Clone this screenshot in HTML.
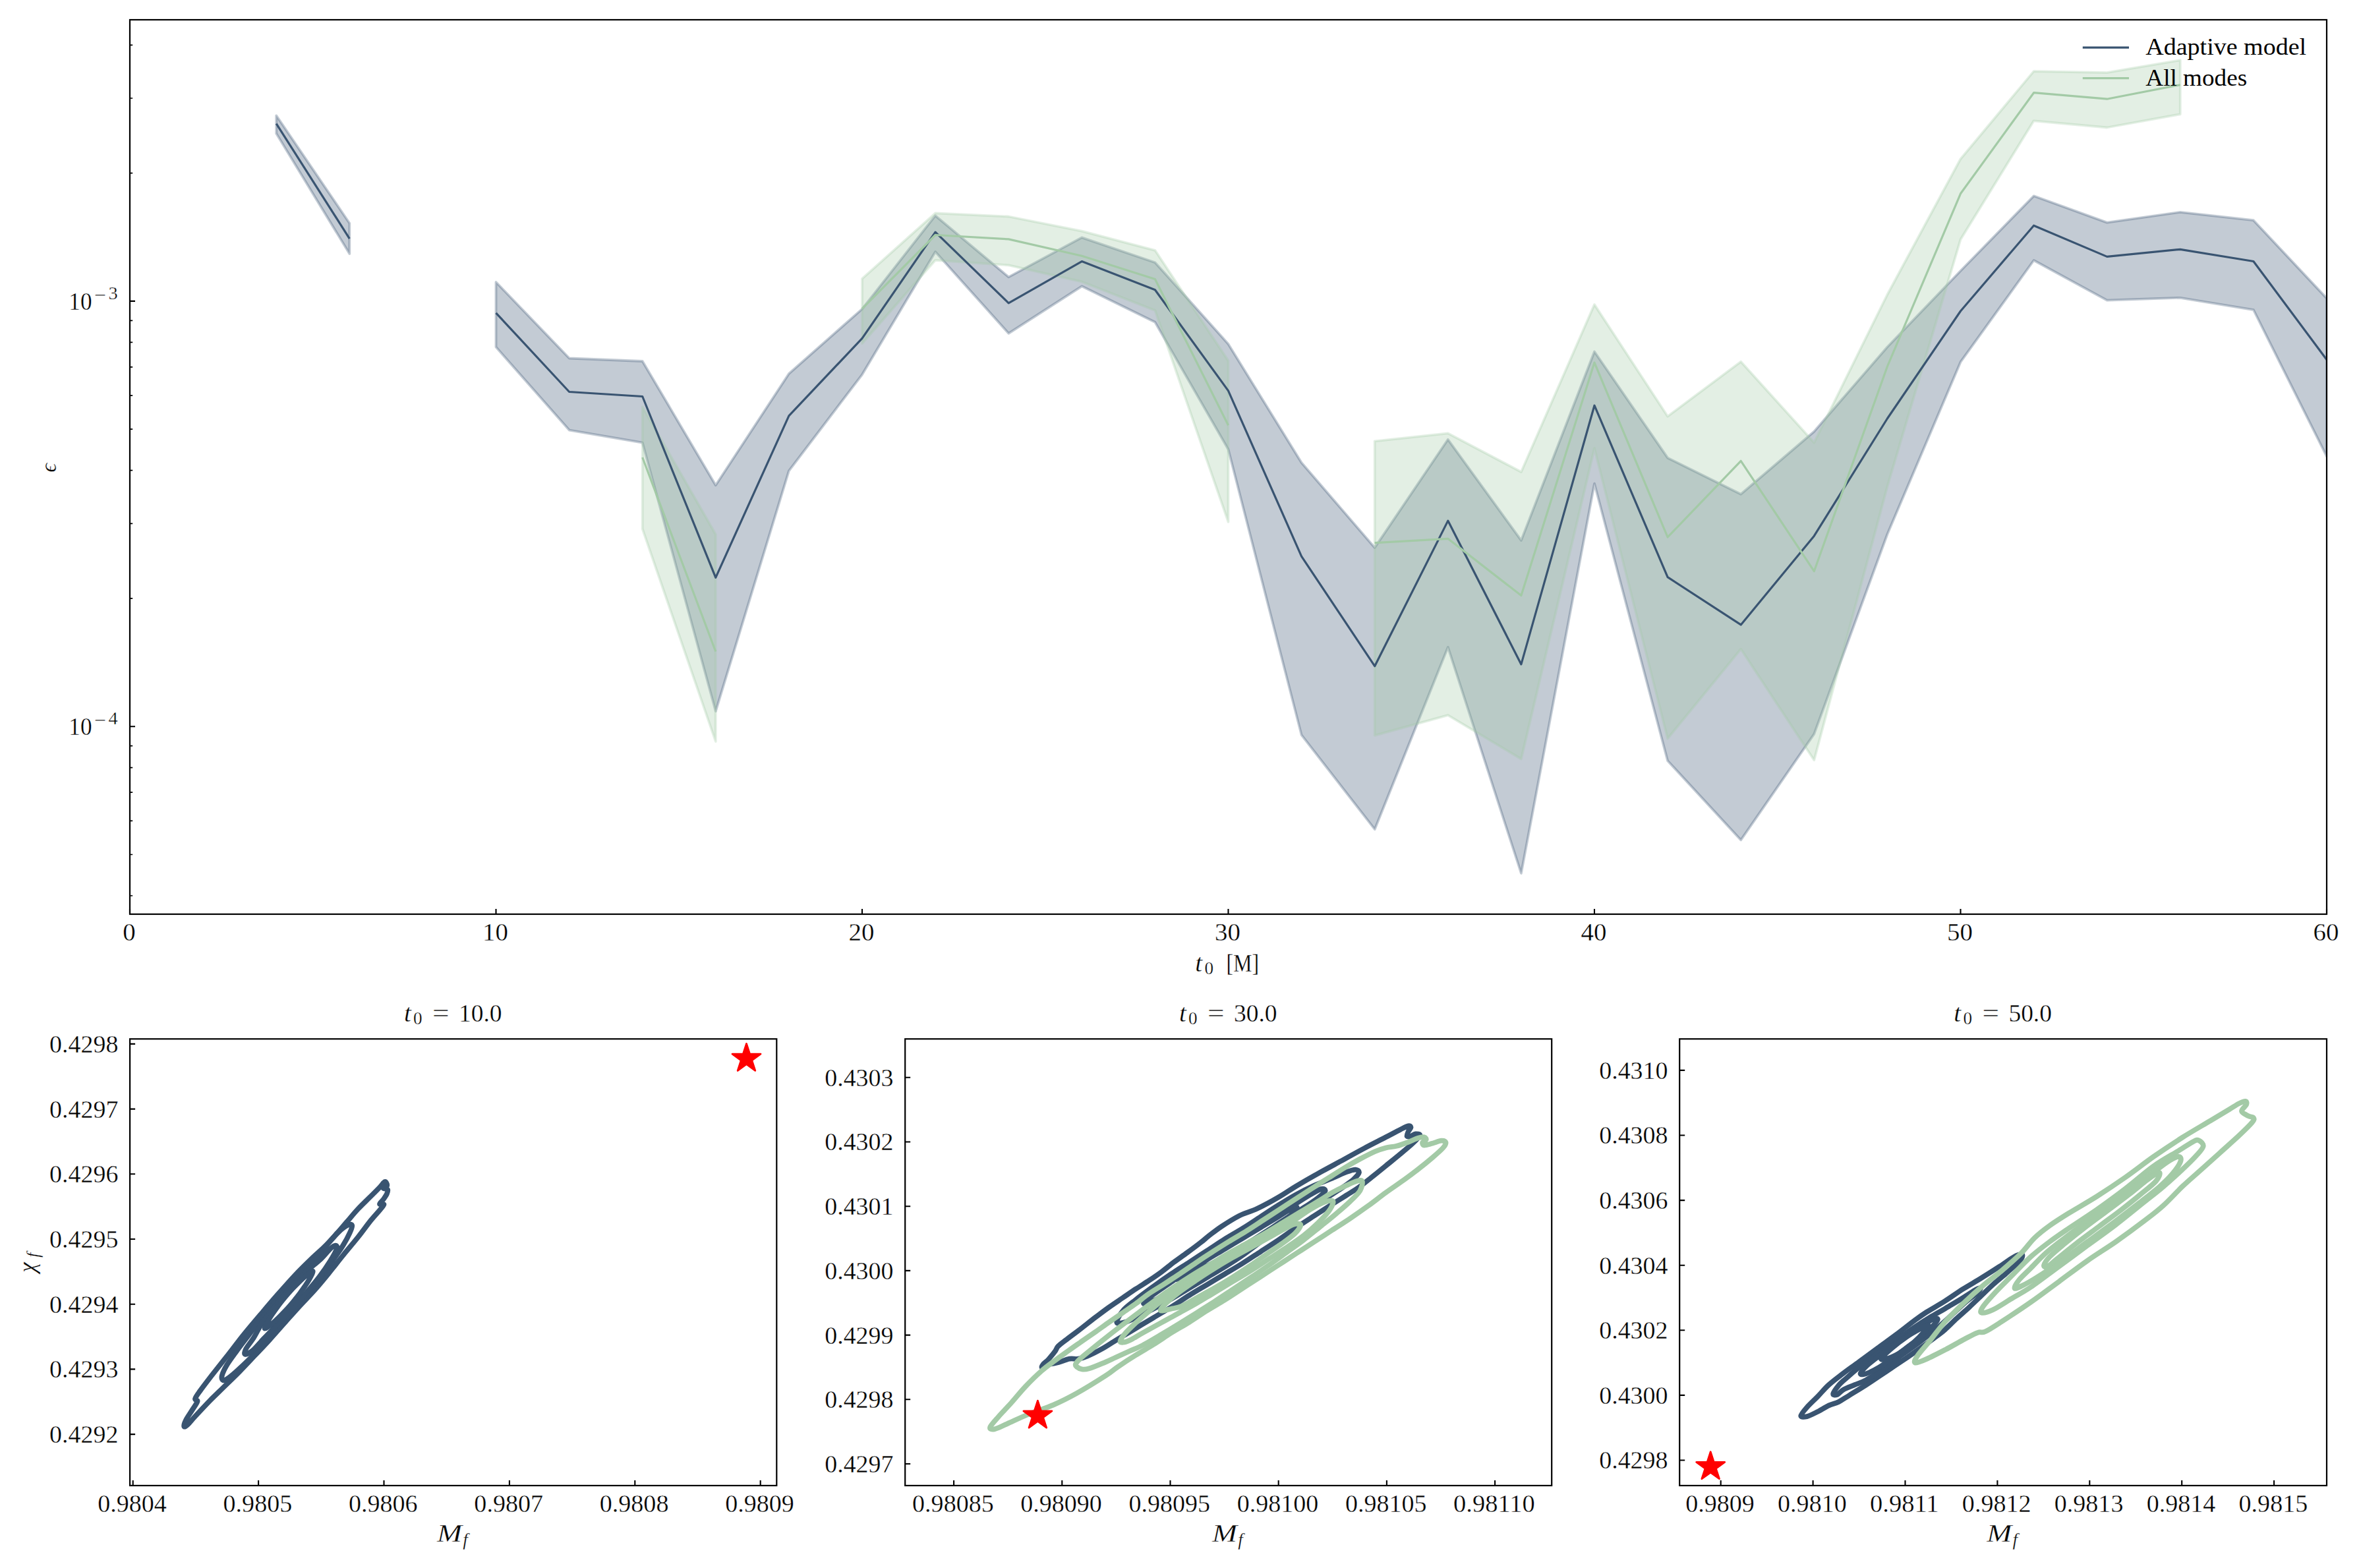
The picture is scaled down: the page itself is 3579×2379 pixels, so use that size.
<!DOCTYPE html>
<html><head><meta charset="utf-8"><title>figure</title>
<style>
html,body{margin:0;padding:0;background:#fff;}
svg{display:block;}
text{font-family:'Liberation Serif','DejaVu Serif',serif;fill:#000;stroke:#fff;stroke-width:0.35px;}
.ns{stroke:none;}
.i{font-style:italic;}
</style></head><body>
<svg width="3579" height="2379" viewBox="0 0 3579 2379">
<rect width="3579" height="2379" fill="#fff"/>
<defs>
<clipPath id="cT"><rect x="197.0" y="30.0" width="3333.0" height="1357.0"/></clipPath>
</defs>
<g clip-path="url(#cT)">
<path d="M419.2,175.3 530.3,338.7 L530.3,385.1 419.2,202.6Z" fill="#395471" fill-opacity="0.3" stroke="#395471" stroke-opacity="0.3" stroke-width="3.8" stroke-linejoin="round"/>
<path d="M752.5,428 863.6,543.5 974.7,548 1085.8,736.2 1196.9,567 1308,468.8 1419.1,327.2 1530.2,420.3 1641.3,360.4 1752.4,398.2 1863.5,521.9 1974.6,702 2085.7,830.9 2196.8,666.8 2307.9,819.9 2419,533.5 2530.1,694.7 2641.2,749.8 2752.3,654.7 2863.4,526.5 2974.5,411 3085.6,297.3 3196.7,337.6 3307.8,321.8 3418.9,334.2 3530,452.6 L3530,692.5 3418.9,470 3307.8,451.8 3196.7,455.6 3085.6,395 2974.5,549.2 2863.4,810.5 2752.3,1113.7 2641.2,1274.5 2530.1,1154.2 2419,733.8 2307.9,1325 2196.8,981.9 2085.7,1258.2 1974.6,1115.1 1863.5,681.8 1752.4,488.8 1641.3,434.3 1530.2,505.8 1419.1,382 1308,568.3 1196.9,714.3 1085.8,1079.1 974.7,671.6 863.6,652.6 752.5,526.5Z" fill="#395471" fill-opacity="0.3" stroke="#395471" stroke-opacity="0.3" stroke-width="3.8" stroke-linejoin="round"/>
<path d="M974.7,617.3 1085.8,810.7 L1085.8,1125 974.7,802.3Z" fill="#a3caa6" fill-opacity="0.3" stroke="#a3caa6" stroke-opacity="0.3" stroke-width="3.8" stroke-linejoin="round"/>
<path d="M1308,422.9 1419.1,323.4 1530.2,328.5 1641.3,350.7 1752.4,379.8 1863.5,547.4 L1863.5,791.8 1752.4,470.9 1641.3,427.4 1530.2,402.4 1419.1,394.8 1308,521.1Z" fill="#a3caa6" fill-opacity="0.3" stroke="#a3caa6" stroke-opacity="0.3" stroke-width="3.8" stroke-linejoin="round"/>
<path d="M2085.7,669.3 2196.8,657.4 2307.9,716 2419,462.1 2530.1,631.7 2641.2,548.8 2752.3,671.5 2863.4,447 2974.5,241.2 3085.6,108.1 3196.7,110.1 3307.8,91.3 L3307.8,173.3 3196.7,193.5 3085.6,183.3 2974.5,363.2 2863.4,738 2752.3,1153.2 2641.2,984.8 2530.1,1120.6 2419,680.2 2307.9,1151.5 2196.8,1085.2 2085.7,1115.8Z" fill="#a3caa6" fill-opacity="0.3" stroke="#a3caa6" stroke-opacity="0.3" stroke-width="3.8" stroke-linejoin="round"/>
<path d="M419.2,187.6 L530.3,362.1" fill="none" stroke="#395471" stroke-width="3.2" stroke-linejoin="round" stroke-linecap="butt"/>
<path d="M752.5,474.8 L863.6,594.5 L974.7,601.5 L1085.8,876.3 L1196.9,630.8 L1308,513.4 L1419.1,352.2 L1530.2,459.8 L1641.3,396.6 L1752.4,439.8 L1863.5,592.9 L1974.6,844.1 L2085.7,1010.7 L2196.8,790.1 L2307.9,1007.9 L2419,615.2 L2530.1,875.7 L2641.2,947.9 L2752.3,813.2 L2863.4,635 L2974.5,472 L3085.6,342.2 L3196.7,389.4 L3307.8,378.3 L3418.9,396.5 L3530,545.7" fill="none" stroke="#395471" stroke-width="3.2" stroke-linejoin="round" stroke-linecap="butt"/>
<path d="M974.7,694 L1085.8,988.5" fill="none" stroke="#a3caa6" stroke-width="3.2" stroke-linejoin="round" stroke-linecap="butt"/>
<path d="M1308,468.3 L1419.1,356.5 L1530.2,362.9 L1641.3,388.2 L1752.4,423.5 L1863.5,645.2" fill="none" stroke="#a3caa6" stroke-width="3.2" stroke-linejoin="round" stroke-linecap="butt"/>
<path d="M2085.7,823.7 L2196.8,817.3 L2307.9,903.6 L2419,550.1 L2530.1,815 L2641.2,699.3 L2752.3,866.7 L2863.4,556 L2974.5,293.8 L3085.6,140.7 L3196.7,150.2 L3307.8,128.7" fill="none" stroke="#a3caa6" stroke-width="3.2" stroke-linejoin="round" stroke-linecap="butt"/>
</g>
<path d="M197,1387 v-8 M752.5,1387 v-8 M1308,1387 v-8 M1863.5,1387 v-8 M2419,1387 v-8 M2974.5,1387 v-8 M3530,1387 v-8 M197,456.9 h8 M197,1102.2 h8" stroke="#000" stroke-width="2.1" fill="none"/>
<path d="M197,262.6 h4.2 M197,149 h4.2 M197,68.4 h4.2 M197,907.9 h4.2 M197,794.3 h4.2 M197,713.7 h4.2 M197,651.2 h4.2 M197,600.1 h4.2 M197,556.9 h4.2 M197,519.4 h4.2 M197,486.4 h4.2 M197,1359 h4.2 M197,1296.5 h4.2 M197,1245.4 h4.2 M197,1202.2 h4.2 M197,1164.7 h4.2 M197,1131.7 h4.2" stroke="#000" stroke-width="1.7" fill="none"/>
<rect x="197.0" y="30.0" width="3333.0" height="1357.0" fill="none" stroke="#000" stroke-width="2.2"/>
<text x="196" y="1426.8" font-size="38.9" text-anchor="middle" >0</text>
<text x="751.5" y="1426.8" font-size="38.9" text-anchor="middle" >10</text>
<text x="1307" y="1426.8" font-size="38.9" text-anchor="middle" >20</text>
<text x="1862.5" y="1426.8" font-size="38.9" text-anchor="middle" >30</text>
<text x="2418" y="1426.8" font-size="38.9" text-anchor="middle" >40</text>
<text x="2973.5" y="1426.8" font-size="38.9" text-anchor="middle" >50</text>
<text x="3529" y="1426.8" font-size="38.9" text-anchor="middle" >60</text>
<text x="104.3" y="469.7" font-size="38.9" textLength="35.2" lengthAdjust="spacingAndGlyphs">10</text>
<text x="142.9" y="456.8" font-size="27.2" textLength="18" lengthAdjust="spacingAndGlyphs">−</text>
<text x="164.6" y="454" font-size="27.2" textLength="14.2" lengthAdjust="spacingAndGlyphs">3</text>
<text x="104.3" y="1115" font-size="38.9" textLength="35.2" lengthAdjust="spacingAndGlyphs">10</text>
<text x="142.9" y="1102.1" font-size="27.2" textLength="18" lengthAdjust="spacingAndGlyphs">−</text>
<text x="164.6" y="1099.3" font-size="27.2" textLength="14.2" lengthAdjust="spacingAndGlyphs">4</text>
<text x="1813.2" y="1474" font-size="38.9" class="i">t</text>
<text x="1827.4" y="1477.9" font-size="27.2">0</text>
<text x="1860.6" y="1474" font-size="38.9" textLength="49.4" lengthAdjust="spacingAndGlyphs">[M]</text>
<text transform="translate(85.2,709.9) rotate(-90)" font-size="34.5" class="i" text-anchor="middle">ϵ</text>
<path d="M3159.8,72.2 H3230" stroke="#395471" stroke-width="3.2"/>
<path d="M3159.8,118.6 H3230" stroke="#a3caa6" stroke-width="3.2"/>
<text class="ns" x="3255.3" y="82.8" font-size="35.3" textLength="243.8" lengthAdjust="spacingAndGlyphs">Adaptive model</text>
<text class="ns" x="3255.3" y="129.5" font-size="35.3" textLength="153.9" lengthAdjust="spacingAndGlyphs">All modes</text>
<clipPath id="cA"><rect x="197.1" y="1576.3" width="981.2" height="677.6499999999999"/></clipPath>
<g clip-path="url(#cA)">
<path d="M279.3,2164.2C278.8,2163 280,2158.6 282.1,2154.4C284.2,2150.2 289,2143.6 291.9,2138.9C294.8,2134.3 298.8,2129.1 299.5,2126.3C300.2,2123.5 295.5,2124.7 296.1,2122.1C296.7,2119.5 298.9,2116.7 303.1,2110.9C307.3,2105 314.5,2095.6 321.2,2086.9C328,2078.2 335.6,2068.8 343.5,2058.7C351.4,2048.6 359.9,2037.3 368.7,2026.3C377.6,2015.3 387.9,2003.2 396.8,1992.7C405.7,1982.1 413.6,1972.8 422.1,1963.2C430.5,1953.6 438.9,1944 447.3,1935.1C455.8,1926.2 465.1,1917.1 472.6,1909.9C480.1,1902.6 486.2,1897.7 492.3,1891.6C498.4,1885.6 503.5,1879.7 509.2,1873.4C514.8,1867.2 520.5,1860.4 526.2,1853.9C531.8,1847.4 537.5,1840.4 543.1,1834.4C548.8,1828.3 554.6,1822.9 560,1817.5C565.4,1812.2 571.5,1806.2 575.4,1802.1C579.4,1798 581.9,1793.7 583.9,1793.1C585.8,1792.6 587.6,1797.1 587.2,1798.7C586.9,1800.4 581.5,1801.9 581.6,1802.9C581.8,1804 587.2,1803.4 588.1,1804.9C588.9,1806.4 587.8,1809.4 586.7,1811.9C585.5,1814.5 582.8,1817.9 581.1,1820.4C579.3,1822.8 575.8,1825.6 576,1826.8C576.2,1828 582.3,1826 582.5,1827.4C582.6,1828.8 580.1,1831.2 576.8,1835.2C573.6,1839.2 568.4,1844.4 562.9,1851.3C557.3,1858.2 550.4,1868 543.5,1876.7C536.5,1885.5 528.7,1894.5 521.3,1903.6C513.8,1912.8 506.3,1922.6 498.9,1931.7C491.4,1940.9 483.9,1950 476.4,1958.4C468.9,1966.8 461.4,1974.1 454,1982.3C446.5,1990.4 439,1999.1 431.5,2007.5C424,2015.9 416.5,2024.6 409,2032.8C401.6,2041 394.1,2048.7 386.6,2056.6C379.1,2064.6 371.6,2072.8 364,2080.4C356.5,2088.1 348.9,2095.3 341.3,2102.7C333.8,2110.1 326.2,2117.3 318.6,2124.9C311.1,2132.6 301.8,2142.7 296.1,2148.8C290.5,2154.8 287.7,2158.8 284.9,2161.4C282.1,2164 279.8,2165.4 279.3,2164.2Z" fill="none" stroke="#395471" stroke-width="7.8" stroke-linejoin="round" stroke-linecap="round"/>
<path d="M338.2,2094C337.1,2093.1 335.9,2090.8 336.8,2087C337.8,2083.3 340.4,2077.5 343.9,2071.6C347.3,2065.7 352.7,2058.6 357.7,2051.7C362.7,2044.8 367.9,2038 373.9,2030.2C379.8,2022.3 386.3,2013.4 393.3,2004.7C400.3,1996 407.8,1987.4 415.8,1978C423.7,1968.7 433.1,1957.5 441,1948.6C449,1939.7 456.4,1932.2 463.5,1924.7C470.6,1917.3 477.2,1910.8 483.5,1903.9C489.7,1897.1 495.4,1889.6 500.9,1883.4C506.4,1877.2 511.8,1870.9 516.5,1866.7C521.2,1862.5 526.2,1859.4 529.1,1858.2C532.1,1857.1 533.9,1857.5 534.2,1859.6C534.4,1861.8 532.8,1866 530.5,1870.9C528.3,1875.8 524.7,1882.6 520.7,1889.1C516.7,1895.7 511.7,1902.6 506.6,1910.1C501.4,1917.5 495.7,1925.7 489.6,1933.8C483.5,1942 477,1950.5 469.9,1959.1C462.9,1967.8 455,1977.1 447.5,1985.8C440,1994.4 432.5,2002.6 425,2011C417.5,2019.5 410,2028.1 402.6,2036.3C395.1,2044.5 387.7,2052.8 380.3,2060.3C372.8,2067.8 364,2076 357.9,2081.4C351.8,2086.8 347.1,2090.5 343.9,2092.6C340.6,2094.7 339.4,2095 338.2,2094Z" fill="none" stroke="#395471" stroke-width="7.8" stroke-linejoin="round" stroke-linecap="round"/>
<path d="M371.9,2054.7C370.3,2054.3 371.1,2050.6 373.3,2046.3C375.6,2042 381.1,2035.8 385.3,2029C389.6,2022.1 393.4,2013.2 398.9,2005.2C404.4,1997.2 411.2,1989.5 418.1,1981C425.1,1972.5 433.1,1962.7 440.6,1954.3C448.1,1945.9 455.5,1937.8 463.1,1930.5C470.7,1923.3 479.8,1916.8 486.1,1910.9C492.5,1904.9 497.3,1898.3 501.1,1894.7C504.8,1891.2 507.3,1889.7 508.9,1889.7C510.5,1889.7 512.2,1890.9 510.9,1894.7C509.6,1898.6 505.5,1905.9 501.1,1913C496.7,1920.1 490.6,1929.1 484.5,1937.1C478.5,1945.1 472,1952.8 464.9,1961C457.9,1969.2 450,1978.1 442.5,1986.3C435,1994.5 427.1,2002.7 420,2010.1C413,2017.6 406.3,2024.5 400.1,2031C394,2037.5 387.9,2045.2 383.2,2049.1C378.5,2053.1 373.6,2055.2 371.9,2054.7Z" fill="none" stroke="#395471" stroke-width="7.8" stroke-linejoin="round" stroke-linecap="round"/>
<path d="M401.7,2015.7C400.7,2014.9 405,2007.5 407,2003.7C409,1999.9 411.4,1996.4 413.8,1992.9C416.1,1989.4 418.6,1986 421.1,1982.6C423.6,1979.2 426.2,1975.9 428.8,1972.6C431.4,1969.3 434.1,1966.1 436.9,1962.9C439.7,1959.8 442.5,1956.6 445.4,1953.6C448.3,1950.5 451.3,1947.5 454.3,1944.6C457.4,1941.7 460.4,1938.7 463.7,1936C467.1,1933.4 473.7,1927.9 474.7,1928.7C475.6,1929.5 471.4,1936.9 469.4,1940.7C467.4,1944.5 464.9,1948 462.6,1951.5C460.2,1955 457.8,1958.4 455.3,1961.8C452.8,1965.2 450.2,1968.6 447.5,1971.8C444.9,1975.1 442.2,1978.3 439.4,1981.5C436.7,1984.7 433.8,1987.8 430.9,1990.8C428,1993.9 425.1,1996.9 422,1999.8C419,2002.8 416,2005.8 412.6,2008.4C409.2,2011.1 402.6,2016.5 401.7,2015.7Z" fill="none" stroke="#395471" stroke-width="7.8" stroke-linejoin="round" stroke-linecap="round"/>
<polygon points="1132.5,1583.5 1137.6,1599.1 1154,1599.1 1140.7,1608.8 1145.8,1624.4 1132.5,1614.7 1119.2,1624.4 1124.3,1608.8 1111,1599.1 1127.4,1599.1" fill="#ff0000" stroke="#ff0000" stroke-width="2.8" stroke-linejoin="round"/>
</g>
<path d="M201.7,2253.9 v-8 M392.1,2253.9 v-8 M582.5,2253.9 v-8 M772.9,2253.9 v-8 M963.3,2253.9 v-8 M1153.7,2253.9 v-8 M197.1,1583.9 h8 M197.1,1682.6 h8 M197.1,1781.3 h8 M197.1,1880 h8 M197.1,1978.7 h8 M197.1,2077.4 h8 M197.1,2176.1 h8" stroke="#000" stroke-width="2.1" fill="none"/>
<rect x="197.1" y="1576.3" width="981.2" height="677.6499999999999" fill="none" stroke="#000" stroke-width="2.2"/>
<text x="200.5" y="2293.6" font-size="38.9" text-anchor="middle" textLength="104.7" lengthAdjust="spacingAndGlyphs">0.9804</text>
<text x="390.9" y="2293.6" font-size="38.9" text-anchor="middle" textLength="104.7" lengthAdjust="spacingAndGlyphs">0.9805</text>
<text x="581.3" y="2293.6" font-size="38.9" text-anchor="middle" textLength="104.7" lengthAdjust="spacingAndGlyphs">0.9806</text>
<text x="771.7" y="2293.6" font-size="38.9" text-anchor="middle" textLength="104.7" lengthAdjust="spacingAndGlyphs">0.9807</text>
<text x="962.1" y="2293.6" font-size="38.9" text-anchor="middle" textLength="104.7" lengthAdjust="spacingAndGlyphs">0.9808</text>
<text x="1152.5" y="2293.6" font-size="38.9" text-anchor="middle" textLength="104.7" lengthAdjust="spacingAndGlyphs">0.9809</text>
<text x="75.1" y="1596.8" font-size="38.9" textLength="104.3" lengthAdjust="spacingAndGlyphs">0.4298</text>
<text x="75.1" y="1695.5" font-size="38.9" textLength="104.3" lengthAdjust="spacingAndGlyphs">0.4297</text>
<text x="75.1" y="1794.2" font-size="38.9" textLength="104.3" lengthAdjust="spacingAndGlyphs">0.4296</text>
<text x="75.1" y="1892.9" font-size="38.9" textLength="104.3" lengthAdjust="spacingAndGlyphs">0.4295</text>
<text x="75.1" y="1991.6" font-size="38.9" textLength="104.3" lengthAdjust="spacingAndGlyphs">0.4294</text>
<text x="75.1" y="2090.3" font-size="38.9" textLength="104.3" lengthAdjust="spacingAndGlyphs">0.4293</text>
<text x="75.1" y="2189" font-size="38.9" textLength="104.3" lengthAdjust="spacingAndGlyphs">0.4292</text>
<text x="612.9" y="1549.8" font-size="38.9" class="i">t</text>
<text x="627.1" y="1553.7" font-size="27.2">0</text>
<text x="656.1" y="1549.8" font-size="38.9" textLength="25.6" lengthAdjust="spacingAndGlyphs">=</text>
<text x="696" y="1549.8" font-size="38.9" textLength="65.6" lengthAdjust="spacingAndGlyphs">10.0</text>
<text x="662.9" y="2338.9" font-size="38.9" class="i" textLength="38" lengthAdjust="spacingAndGlyphs">M</text>
<text x="702.2" y="2344.7" font-size="27.2" class="i">f</text>
<clipPath id="cB"><rect x="1373.2" y="1576.3" width="981" height="677.6499999999999"/></clipPath>
<g clip-path="url(#cB)">
<path d="M1581.2,2074.7C1579.5,2074.7 1581.2,2071.9 1582.8,2069.8C1584.4,2067.8 1587.7,2065.8 1590.7,2062.5C1593.6,2059.2 1598.2,2053.7 1600.7,2050.3C1603.2,2046.9 1602.4,2045.5 1605.8,2042.1C1609.3,2038.8 1615.3,2034.6 1621.3,2029.9C1627.3,2025.3 1634.9,2019.7 1641.7,2014.5C1648.4,2009.3 1655.2,2003.9 1662,1998.7C1668.8,1993.6 1675.5,1988.4 1682.4,1983.5C1689.2,1978.7 1696.1,1974.1 1703,1969.4C1709.8,1964.8 1716.5,1960.1 1723.3,1955.6C1730.1,1951.1 1737.2,1946.9 1743.7,1942.6C1750.1,1938.3 1755.9,1934.4 1762.1,1929.8C1768.3,1925.3 1774.3,1920.1 1780.8,1915.2C1787.4,1910.3 1794.4,1905.5 1801.2,1900.5C1808,1895.6 1816.1,1889.6 1821.5,1885.3C1827,1881.1 1828.8,1879.1 1834,1875C1839.3,1871 1845.3,1866 1853,1860.9C1860.7,1855.9 1871.1,1849.2 1880.1,1844.6C1889.2,1840.1 1897.3,1838.5 1907.3,1833.8C1917.2,1829.1 1929.9,1822.2 1939.8,1816.4C1949.8,1810.7 1957,1805.3 1967,1799.3C1976.9,1793.4 1988.2,1786.9 1999.5,1780.6C2010.8,1774.3 2023,1767.8 2034.8,1761.4C2046.5,1754.9 2058.7,1748.1 2070,1742.1C2081.4,1736.1 2093.6,1730 2102.6,1725.3C2111.6,1720.6 2118.7,1716.7 2124.3,1713.9C2130,1711 2133.8,1708.8 2136.5,1708.2C2139.2,1707.6 2140.6,1708.9 2140.6,1710.3C2140.6,1711.8 2137.5,1714.9 2136.5,1717.1C2135.5,1719.4 2133.9,1722.8 2134.6,1723.9C2135.3,1725 2138.5,1724.5 2140.6,1723.9C2142.7,1723.3 2145.1,1720.6 2147.4,1720.4C2149.6,1720.2 2154.8,1720.2 2154.2,1722.6C2153.5,1725 2148.3,1730 2143.3,1734.8C2138.3,1739.5 2131.1,1745.4 2124.3,1751C2117.5,1756.7 2109.8,1762.8 2102.6,1768.7C2095.4,1774.6 2087.7,1780.9 2080.9,1786.3C2074.1,1791.7 2068.2,1796.7 2061.9,1801.2C2055.6,1805.8 2049.7,1809.1 2042.9,1813.4C2036.1,1817.7 2029.4,1821.8 2021.2,1827C2013.1,1832.2 2003.1,1838.8 1994.1,1844.6C1985,1850.5 1976,1856.2 1967,1862.3C1957.9,1868.4 1948.9,1875.2 1939.8,1881.3C1930.8,1887.4 1921.7,1893 1912.7,1898.9C1903.6,1904.8 1894.6,1910.9 1885.6,1916.5C1876.5,1922.2 1867.5,1927.4 1858.4,1932.8C1849.4,1938.2 1840.3,1943.7 1831.3,1949.1C1822.3,1954.5 1813.2,1959.7 1804.2,1965.4C1795.1,1971 1786.1,1977.4 1777,1983C1768,1988.7 1759,1993.9 1749.9,1999.3C1740.9,2004.7 1731.8,2010.1 1722.8,2015.6C1713.7,2021 1703.8,2026.9 1695.7,2031.8C1687.5,2036.8 1681.6,2041.1 1673.9,2045.4C1666.3,2049.7 1655.9,2054.9 1649.5,2057.6C1643.2,2060.3 1640.5,2061 1636,2061.7C1631.4,2062.4 1627.4,2060.8 1622.4,2061.7C1617.4,2062.6 1611.1,2065.8 1606.1,2067.1C1601.1,2068.5 1596.7,2068.6 1592.6,2069.8C1588.4,2071.1 1582.8,2074.7 1581.2,2074.7Z" fill="none" stroke="#395471" stroke-width="7.8" stroke-linejoin="round" stroke-linecap="round"/>
<path d="M1694.3,2006.1C1693.8,2003.1 1699,1994.1 1703.8,1988.4C1708.5,1982.8 1715.1,1978.3 1722.8,1972.2C1730.5,1966 1740.9,1958.4 1749.9,1951.8C1759,1945.2 1768,1938.9 1777,1932.8C1786.1,1926.7 1795.1,1921.1 1804.2,1915.2C1813.2,1909.3 1822.3,1903.4 1831.3,1897.5C1840.3,1891.7 1849.4,1885.6 1858.4,1879.9C1867.5,1874.3 1876.5,1869.3 1885.6,1863.6C1894.6,1858 1903.6,1851.9 1912.7,1846C1921.7,1840.1 1930.8,1834 1939.8,1828.4C1948.9,1822.7 1957.9,1817.1 1967,1812.1C1976,1807.1 1985,1802.6 1994.1,1798.5C2003.1,1794.5 2013.1,1791.1 2021.2,1787.7C2029.4,1784.3 2037,1780.3 2042.9,1778.2C2048.8,1776 2053.3,1774.5 2056.5,1774.6C2059.6,1774.8 2062.4,1776.6 2061.9,1779C2061.5,1781.4 2057.8,1785.3 2053.8,1789C2049.7,1792.7 2042.9,1797.4 2037.5,1801.2C2032.1,1805.1 2028.4,1807.3 2021.2,1812.1C2014,1816.8 2003.1,1823.8 1994.1,1829.7C1985,1835.6 1976,1841.5 1967,1847.4C1957.9,1853.2 1948.9,1858.9 1939.8,1865C1930.8,1871.1 1921.7,1877.4 1912.7,1884C1903.6,1890.5 1894.6,1898 1885.6,1904.3C1876.5,1910.7 1867.5,1916.3 1858.4,1922C1849.4,1927.6 1840.3,1932.8 1831.3,1938.2C1822.3,1943.7 1813.2,1949.1 1804.2,1954.5C1795.1,1959.9 1786.1,1965.6 1777,1970.8C1768,1976 1759,1981 1749.9,1985.7C1740.9,1990.5 1730,1995.9 1722.8,1999.3C1715.5,2002.7 1711.3,2004.9 1706.5,2006.1C1701.8,2007.2 1694.7,2009 1694.3,2006.1Z" fill="none" stroke="#395471" stroke-width="7.8" stroke-linejoin="round" stroke-linecap="round"/>
<path d="M1735,1977.6C1735,1976 1742.9,1969.4 1749.9,1964C1756.9,1958.6 1768,1951.4 1777,1945C1786.1,1938.7 1795.1,1932.1 1804.2,1926C1813.2,1919.9 1822.3,1914 1831.3,1908.4C1840.3,1902.7 1849.4,1897.8 1858.4,1892.1C1867.5,1886.5 1876.5,1880.1 1885.6,1874.5C1894.6,1868.8 1903.6,1863.6 1912.7,1858.2C1921.7,1852.8 1930.8,1847.4 1939.8,1841.9C1948.9,1836.5 1958.8,1830.6 1967,1825.7C1975.1,1820.7 1982.3,1815.7 1988.7,1812.1C1995,1808.5 2001.3,1804.8 2004.9,1803.9C2008.6,1803.1 2011.3,1804.9 2010.4,1807.2C2009.5,1809.5 2004.9,1813.3 1999.5,1817.5C1994.1,1821.7 1985.5,1827.5 1977.8,1832.4C1970.1,1837.4 1962,1841.9 1953.4,1847.4C1944.8,1852.8 1935.3,1859.1 1926.3,1865C1917.2,1870.9 1908.2,1876.7 1899.1,1882.6C1890.1,1888.5 1881,1894.4 1872,1900.3C1863,1906.1 1853.9,1912.2 1844.9,1917.9C1835.8,1923.5 1829,1927.4 1817.7,1934.2C1806.4,1941 1788.3,1952 1777,1958.6C1765.7,1965.1 1756.9,1970.3 1749.9,1973.5C1742.9,1976.7 1735,1979.2 1735,1977.6Z" fill="none" stroke="#395471" stroke-width="7.8" stroke-linejoin="round" stroke-linecap="round"/>
<path d="M1783.8,1941C1783.8,1940 1796.3,1933.7 1804.2,1928.7C1812.1,1923.8 1822.3,1916.8 1831.3,1911.1C1840.3,1905.5 1849.4,1900.3 1858.4,1894.8C1867.5,1889.4 1876.5,1884 1885.6,1878.6C1894.6,1873.1 1903.6,1867.7 1912.7,1862.3C1921.7,1856.9 1931.7,1851 1939.8,1846C1948,1841 1956.9,1834.6 1961.5,1832.4C1966.2,1830.2 1968.2,1830.9 1967.8,1832.7C1967.3,1834.5 1963.5,1839.3 1958.8,1843.3C1954.2,1847.3 1947.5,1851.7 1939.8,1856.9C1932.1,1862.1 1921.7,1868.6 1912.7,1874.5C1903.6,1880.4 1894.6,1886.7 1885.6,1892.1C1876.5,1897.5 1867.5,1902.3 1858.4,1907C1849.4,1911.8 1840.3,1916.1 1831.3,1920.6C1822.3,1925.1 1812.1,1930.8 1804.2,1934.2C1796.3,1937.6 1783.8,1941.9 1783.8,1941Z" fill="none" stroke="#395471" stroke-width="7.8" stroke-linejoin="round" stroke-linecap="round"/>
<path d="M1580.3,2079.9C1587.8,2073.3 1593.9,2069.2 1600.7,2064.1C1607.5,2059 1614.5,2054.1 1621.3,2049.2C1628.1,2044.3 1634.9,2039.6 1641.7,2034.8C1648.4,2030.1 1655.2,2025.5 1662,2020.7C1668.8,2016 1675.5,2011.1 1682.4,2006.3C1689.2,2001.5 1696.1,1996.7 1703,1992C1709.8,1987.2 1716.5,1982.8 1723.3,1977.9C1730.1,1972.9 1736.4,1967.4 1743.7,1962.4C1751,1957.4 1759.2,1952.8 1767,1947.7C1774.8,1942.7 1782.6,1937.6 1790.6,1932.3C1798.6,1926.9 1806.6,1921.2 1814.8,1915.7C1822.9,1910.3 1831.3,1904.7 1839.4,1899.4C1847.6,1894.2 1855.3,1889.3 1863.9,1884C1872.4,1878.7 1881.9,1873.4 1891,1867.7C1900,1862.1 1909.1,1855.9 1918.1,1850.1C1927.2,1844.2 1936.2,1838.3 1945.2,1832.4C1954.3,1826.6 1963.3,1820.7 1972.4,1814.8C1981.4,1808.9 1991.4,1802.4 1999.5,1797.2C2007.6,1792 2014,1788.1 2021.2,1783.6C2028.4,1779.1 2035.7,1774.3 2042.9,1770C2050.2,1765.7 2057.4,1761.7 2064.6,1757.8C2071.9,1754 2080,1749.7 2086.3,1747C2092.7,1744.3 2097.2,1742.9 2102.6,1741.5C2108,1740.2 2113.5,1740.2 2118.9,1738.8C2124.3,1737.5 2129.7,1735.4 2135.2,1733.4C2140.6,1731.4 2147.1,1728 2151.4,1726.6C2155.7,1725.3 2158.9,1724.8 2160.9,1725.3C2163,1725.7 2164.1,1728 2163.6,1729.3C2163.2,1730.7 2158.7,1732.1 2158.2,1733.4C2157.8,1734.8 2158.4,1737.3 2160.9,1737.5C2163.4,1737.7 2168.8,1735.9 2173.1,1734.8C2177.4,1733.6 2183.3,1730.9 2186.7,1730.7C2190.1,1730.5 2193,1731.6 2193.5,1733.4C2193.9,1735.2 2192.8,1737.7 2189.4,1741.5C2186,1745.4 2179.5,1751 2173.1,1756.5C2166.8,1761.9 2158.7,1768.5 2151.4,1774.1C2144.2,1779.8 2137.9,1784.5 2129.7,1790.4C2121.6,1796.3 2111.6,1802.8 2102.6,1809.4C2093.6,1815.9 2084.5,1823.2 2075.5,1829.7C2066.4,1836.3 2057.4,1842.6 2048.3,1848.7C2039.3,1854.8 2030.3,1860.5 2021.2,1866.3C2012.2,1872.2 2003.1,1878.1 1994.1,1884C1985,1889.9 1976,1895.7 1967,1901.6C1957.9,1907.5 1948.9,1913.4 1939.8,1919.2C1930.8,1925.1 1921.7,1931 1912.7,1936.9C1903.6,1942.8 1894.6,1948.6 1885.6,1954.5C1876.5,1960.4 1867.5,1966.5 1858.4,1972.2C1849.4,1977.8 1840.3,1982.8 1831.3,1988.4C1822.3,1994.1 1813.2,2000.4 1804.2,2006.1C1795.1,2011.7 1786.1,2016.7 1777,2022.3C1768,2028 1759,2034.3 1749.9,2040C1740.9,2045.6 1731.8,2050.6 1722.8,2056.3C1713.7,2061.9 1703.2,2068.8 1695.7,2073.9C1688.1,2079 1688.1,2080.3 1677.7,2087C1667.3,2093.7 1646.4,2106.7 1633.1,2114.1C1619.8,2121.5 1610.2,2126.3 1598,2131.6C1585.8,2136.9 1571.4,2141.2 1559.7,2146C1548,2150.8 1536.3,2156.6 1527.8,2160.3C1519.3,2164 1513,2167.5 1508.7,2168.3C1504.5,2169.1 1501.2,2168.3 1502.3,2165.1C1503.4,2161.9 1509.8,2155.3 1515.1,2149.2C1520.4,2143.1 1527.4,2136.1 1534.2,2128.5C1541,2120.9 1548.3,2111.6 1556,2103.5C1563.7,2095.4 1572.9,2086.4 1580.3,2079.9Z" fill="none" stroke="#a3caa6" stroke-width="7.8" stroke-linejoin="round" stroke-linecap="round"/>
<path d="M1631.9,2069.8C1632.7,2067.8 1634.8,2065.3 1638.7,2061.7C1642.5,2058.1 1648.6,2053.3 1655,2048.1C1661.3,2042.9 1669,2036.6 1676.7,2030.5C1684.3,2024.4 1692.5,2018 1701.1,2011.5C1709.7,2004.9 1719.2,1997.9 1728.2,1991.1C1737.3,1984.4 1746.3,1977.4 1755.3,1970.8C1764.4,1964.2 1773.4,1957.9 1782.5,1951.8C1791.5,1945.7 1800.6,1939.8 1809.6,1934.2C1818.6,1928.5 1827.7,1923.3 1836.7,1917.9C1845.8,1912.5 1854.8,1906.8 1863.9,1901.6C1872.9,1896.4 1881.9,1891.7 1891,1886.7C1900,1881.7 1909.1,1877 1918.1,1871.8C1927.2,1866.6 1936.2,1860.9 1945.2,1855.5C1954.3,1850.1 1963.3,1844.6 1972.4,1839.2C1981.4,1833.8 1991.4,1827.9 1999.5,1822.9C2007.6,1818 2014,1813.4 2021.2,1809.4C2028.4,1805.3 2036.6,1801.5 2042.9,1798.5C2049.2,1795.6 2055.2,1792.7 2059.2,1791.7C2063.2,1790.7 2066.1,1790.1 2066.8,1792.6C2067.5,1795 2066.3,1801.6 2063.3,1806.7C2060.2,1811.7 2054.4,1817.1 2048.3,1822.9C2042.2,1828.8 2033.9,1835.8 2026.6,1841.9C2019.4,1848 2013.1,1853 2004.9,1859.6C1996.8,1866.1 1986.8,1874.3 1977.8,1881.3C1968.8,1888.2 1959.7,1894.5 1950.7,1901.1C1941.6,1907.6 1932.6,1914.3 1923.5,1920.6C1914.5,1926.9 1905.5,1933 1896.4,1939.1C1887.4,1945.1 1878.3,1951 1869.3,1957C1860.2,1962.9 1851.2,1969 1842.2,1974.9C1833.1,1980.7 1824.1,1986.5 1815,1992.2C1806,1997.9 1797.1,2003.4 1787.9,2009.1C1778.7,2014.7 1769,2020.5 1759.9,2025.9C1750.9,2031.2 1741.5,2037 1733.6,2041.1C1725.8,2045.1 1719.8,2047.2 1713,2050.3C1706.2,2053.4 1699.4,2056.4 1692.7,2059.5C1685.9,2062.6 1679.1,2065.9 1672.3,2068.7C1665.5,2071.6 1656.9,2075.2 1651.7,2076.6C1646.5,2078.1 1644.4,2077.9 1641.4,2077.4C1638.4,2077 1635.4,2075.2 1633.8,2073.9C1632.2,2072.6 1631.1,2071.9 1631.9,2069.8Z" fill="none" stroke="#a3caa6" stroke-width="7.8" stroke-linejoin="round" stroke-linecap="round"/>
<path d="M1699.7,2034.6C1700.2,2032.4 1702.7,2028.2 1706.5,2023.7C1710.3,2019.2 1716.5,2013.3 1722.8,2007.4C1729.1,2001.5 1736.3,1995.2 1744.5,1988.4C1752.6,1981.6 1762.6,1973.5 1771.6,1966.7C1780.7,1959.9 1789.7,1953.8 1798.7,1947.7C1807.8,1941.6 1816.8,1935.8 1825.9,1930.1C1834.9,1924.4 1844,1919 1853,1913.8C1862,1908.6 1871.1,1903.9 1880.1,1898.9C1889.2,1893.9 1898.2,1889.2 1907.3,1884C1916.3,1878.8 1925.4,1872.9 1934.4,1867.7C1943.4,1862.5 1953.4,1857.8 1961.5,1852.8C1969.7,1847.8 1976,1842.4 1983.2,1837.9C1990.5,1833.3 1999.1,1828.4 2004.9,1825.7C2010.8,1822.9 2015.6,1821.8 2018.5,1821.6C2021.4,1821.4 2023,1821.9 2022.6,1824.6C2022.1,1827.3 2019.6,1832.7 2015.8,1837.9C2011.9,1843 2005.8,1849.4 1999.5,1855.5C1993.2,1861.6 1985.9,1868.2 1977.8,1874.5C1969.7,1880.8 1959.7,1887.4 1950.7,1893.5C1941.6,1899.6 1932.6,1905.2 1923.5,1911.1C1914.5,1917 1905.5,1923.1 1896.4,1928.7C1887.4,1934.4 1878.3,1939.6 1869.3,1945C1860.2,1950.4 1851.2,1955.9 1842.2,1961.3C1833.1,1966.7 1824.1,1972.4 1815,1977.6C1806,1982.8 1796.9,1987.5 1787.9,1992.5C1778.8,1997.5 1769.8,2002.4 1760.8,2007.4C1751.7,2012.4 1741.3,2018 1733.6,2022.3C1725.9,2026.6 1719.6,2030.8 1714.6,2033.2C1709.7,2035.6 1706.3,2036.5 1703.8,2036.7C1701.3,2036.9 1699.3,2036.7 1699.7,2034.6Z" fill="none" stroke="#a3caa6" stroke-width="7.8" stroke-linejoin="round" stroke-linecap="round"/>
<path d="M1760.8,1988.4C1759.4,1987.1 1764.4,1982.1 1768.9,1977.6C1773.4,1973.1 1780.2,1967.2 1787.9,1961.3C1795.6,1955.4 1806,1948.4 1815,1942.3C1824.1,1936.2 1833.1,1930.3 1842.2,1924.7C1851.2,1919 1860.2,1913.6 1869.3,1908.4C1878.3,1903.2 1887.4,1898.4 1896.4,1893.5C1905.5,1888.5 1915.4,1883.1 1923.5,1878.6C1931.7,1874 1938.9,1869.7 1945.2,1866.3C1951.6,1863 1957.2,1859.8 1961.5,1858.2C1965.8,1856.6 1969.1,1856.5 1971,1856.9C1972.9,1857.2 1974.1,1857.9 1972.9,1860.4C1971.8,1862.9 1968.9,1867.4 1964.2,1871.8C1959.6,1876.2 1952,1881.7 1945.2,1886.7C1938.5,1891.7 1931.7,1896 1923.5,1901.6C1915.4,1907.3 1905.5,1914.5 1896.4,1920.6C1887.4,1926.7 1878.3,1932.6 1869.3,1938.2C1860.2,1943.9 1851.2,1949.3 1842.2,1954.5C1833.1,1959.7 1823.2,1964.9 1815,1969.4C1806.9,1974 1799.6,1978.9 1793.3,1981.6C1787,1984.4 1782.5,1984.6 1777,1985.7C1771.6,1986.8 1762.1,1989.8 1760.8,1988.4Z" fill="none" stroke="#a3caa6" stroke-width="7.8" stroke-linejoin="round" stroke-linecap="round"/>
<polygon points="1574.4,2125.2 1579.5,2140.8 1595.9,2140.8 1582.6,2150.5 1587.7,2166.1 1574.4,2156.4 1561.1,2166.1 1566.2,2150.5 1552.9,2140.8 1569.3,2140.8" fill="#ff0000" stroke="#ff0000" stroke-width="2.8" stroke-linejoin="round"/>
</g>
<path d="M1447.1,2253.9 v-8 M1611.3,2253.9 v-8 M1775.5,2253.9 v-8 M1939.7,2253.9 v-8 M2103.9,2253.9 v-8 M2268.1,2253.9 v-8 M1373.2,1634.8 h8 M1373.2,1732.5 h8 M1373.2,1830.2 h8 M1373.2,1927.9 h8 M1373.2,2025.6 h8 M1373.2,2123.3 h8 M1373.2,2221 h8" stroke="#000" stroke-width="2.1" fill="none"/>
<rect x="1373.2" y="1576.3" width="981" height="677.6499999999999" fill="none" stroke="#000" stroke-width="2.2"/>
<text x="1445.9" y="2293.6" font-size="38.9" text-anchor="middle" textLength="123.6" lengthAdjust="spacingAndGlyphs">0.98085</text>
<text x="1610.1" y="2293.6" font-size="38.9" text-anchor="middle" textLength="123.6" lengthAdjust="spacingAndGlyphs">0.98090</text>
<text x="1774.3" y="2293.6" font-size="38.9" text-anchor="middle" textLength="123.6" lengthAdjust="spacingAndGlyphs">0.98095</text>
<text x="1938.5" y="2293.6" font-size="38.9" text-anchor="middle" textLength="123.6" lengthAdjust="spacingAndGlyphs">0.98100</text>
<text x="2102.7" y="2293.6" font-size="38.9" text-anchor="middle" textLength="123.6" lengthAdjust="spacingAndGlyphs">0.98105</text>
<text x="2266.9" y="2293.6" font-size="38.9" text-anchor="middle" textLength="123.6" lengthAdjust="spacingAndGlyphs">0.98110</text>
<text x="1251.2" y="1647.7" font-size="38.9" textLength="104.3" lengthAdjust="spacingAndGlyphs">0.4303</text>
<text x="1251.2" y="1745.4" font-size="38.9" textLength="104.3" lengthAdjust="spacingAndGlyphs">0.4302</text>
<text x="1251.2" y="1843.1" font-size="38.9" textLength="104.3" lengthAdjust="spacingAndGlyphs">0.4301</text>
<text x="1251.2" y="1940.8" font-size="38.9" textLength="104.3" lengthAdjust="spacingAndGlyphs">0.4300</text>
<text x="1251.2" y="2038.5" font-size="38.9" textLength="104.3" lengthAdjust="spacingAndGlyphs">0.4299</text>
<text x="1251.2" y="2136.2" font-size="38.9" textLength="104.3" lengthAdjust="spacingAndGlyphs">0.4298</text>
<text x="1251.2" y="2233.9" font-size="38.9" textLength="104.3" lengthAdjust="spacingAndGlyphs">0.4297</text>
<text x="1788.9" y="1549.8" font-size="38.9" class="i">t</text>
<text x="1803.1" y="1553.7" font-size="27.2">0</text>
<text x="1832.1" y="1549.8" font-size="38.9" textLength="25.6" lengthAdjust="spacingAndGlyphs">=</text>
<text x="1872" y="1549.8" font-size="38.9" textLength="65.6" lengthAdjust="spacingAndGlyphs">30.0</text>
<text x="1838.9" y="2338.9" font-size="38.9" class="i" textLength="38" lengthAdjust="spacingAndGlyphs">M</text>
<text x="1878.2" y="2344.7" font-size="27.2" class="i">f</text>
<clipPath id="cC"><rect x="2548.2" y="1576.3" width="981.8" height="677.6499999999999"/></clipPath>
<g clip-path="url(#cC)">
<path d="M2732.2,2148.1C2732.2,2145.8 2737.1,2140.1 2741.4,2135.2C2745.8,2130.3 2752.5,2124.2 2758.1,2118.5C2763.6,2112.8 2768.2,2106.8 2774.7,2101C2781.2,2095.1 2789.2,2089.3 2796.9,2083.4C2804.6,2077.6 2812.3,2072.2 2820.9,2065.8C2829.6,2059.5 2839.4,2052.3 2848.7,2045.5C2857.9,2038.7 2867.2,2032.1 2876.4,2025.2C2885.7,2018.2 2896.5,2009.6 2904.2,2003.9C2911.9,1998.2 2914.9,1995.9 2922.7,1990.9C2930.4,1986 2941.1,1980.2 2950.4,1974.3C2959.6,1968.5 2968.9,1961.7 2978.1,1955.8C2987.4,1950 2996.6,1944.9 3005.9,1939.2C3015.1,1933.5 3025.3,1927 3033.6,1921.6C3041.9,1916.2 3050.2,1909.9 3055.8,1906.8C3061.3,1903.7 3064.9,1903 3066.9,1903.1C3068.9,1903.3 3068.7,1905.6 3067.8,1907.7C3066.9,1909.9 3065.5,1911.9 3061.3,1916.1C3057.2,1920.2 3049,1927.3 3042.8,1932.7C3036.7,1938.1 3030.5,1942.9 3024.4,1948.4C3018.2,1954 3012,1960.1 3005.9,1966C2999.7,1971.8 2993.5,1977.9 2987.4,1983.6C2981.2,1989.3 2975,1994.5 2968.9,2000.2C2962.7,2005.9 2955.6,2013.1 2950.4,2017.8C2945.2,2022.4 2943.6,2023.3 2937.4,2027.9C2931.3,2032.6 2922,2039.3 2913.4,2045.5C2904.8,2051.7 2894.9,2058.6 2885.7,2064.9C2876.4,2071.2 2867.2,2077.2 2857.9,2083.4C2848.7,2089.6 2838.8,2096.4 2830.2,2101.9C2821.6,2107.4 2812.9,2112.5 2806.2,2116.7C2799.4,2120.9 2794.8,2124.2 2789.5,2126.9C2784.3,2129.5 2780.3,2129.8 2774.7,2132.4C2769.2,2135 2761.8,2139.8 2756.2,2142.6C2750.7,2145.4 2745.4,2148.1 2741.4,2149.1C2737.4,2150 2732.2,2150.4 2732.2,2148.1Z" fill="none" stroke="#395471" stroke-width="7.8" stroke-linejoin="round" stroke-linecap="round"/>
<path d="M2781.2,2114.8C2781.5,2112.5 2786,2106.1 2789.5,2101.9C2793.1,2097.7 2797.2,2094.5 2802.5,2089.9C2807.7,2085.3 2813.2,2080.2 2820.9,2074.2C2828.7,2068.2 2839.4,2060.6 2848.7,2053.8C2857.9,2047 2867.2,2040.1 2876.4,2033.5C2885.7,2026.9 2895.5,2019.9 2904.2,2014.1C2912.8,2008.3 2920.5,2003.4 2928.2,1998.7C2935.9,1994 2942.1,1990.7 2950.4,1985.8C2958.7,1980.8 2970.1,1974.1 2978.1,1969.1C2986.1,1964.2 2994,1958.6 2998.5,1956.2C3002.9,1953.8 3004.9,1953.8 3004.9,1954.9C3004.9,1956 3002,1959.6 2998.5,1962.8C2994.9,1966.1 2989.1,1969.8 2983.7,1974.4C2978.3,1979 2972.6,1984.4 2966.1,1990.3C2959.6,1996.3 2953.2,2002.7 2944.7,2010C2936.3,2017.3 2924.7,2026.7 2915.2,2034.1C2905.6,2041.5 2896.7,2047.5 2887.4,2054.4C2878.2,2061.3 2869.1,2069.1 2859.7,2075.7C2850.3,2082.3 2838.7,2089.6 2831.1,2093.9C2823.4,2098.2 2819.4,2098.8 2813.7,2101.2C2808,2103.6 2801.3,2105.9 2796.9,2108.4C2792.6,2110.8 2790.3,2114.7 2787.7,2115.8C2785,2116.8 2780.9,2117.2 2781.2,2114.8Z" fill="none" stroke="#395471" stroke-width="7.8" stroke-linejoin="round" stroke-linecap="round"/>
<path d="M2822.8,2083.4C2823.7,2081.2 2827.4,2076.6 2832,2072.3C2836.7,2068 2843.8,2062.8 2850.5,2057.5C2857.3,2052.3 2865.3,2046.3 2872.7,2040.9C2880.1,2035.5 2887.5,2030.2 2894.9,2025.2C2902.3,2020.1 2910.6,2014.4 2917.1,2010.4C2923.6,2006.4 2930,2002.5 2933.7,2001.1C2937.5,1999.7 2940.2,2000.2 2939.8,2002C2939.5,2003.9 2936.2,2007.8 2931.9,2012.2C2927.6,2016.7 2920.6,2023.1 2913.9,2028.7C2907.2,2034.2 2899.2,2039.8 2891.8,2045.4C2884.4,2051 2876.4,2057.2 2869.6,2062C2862.8,2066.9 2856.5,2071.2 2850.8,2074.6C2845.2,2078 2839.8,2080.7 2835.7,2082.5C2831.7,2084.3 2828.7,2085.1 2826.5,2085.3C2824.3,2085.4 2821.9,2085.6 2822.8,2083.4Z" fill="none" stroke="#395471" stroke-width="7.8" stroke-linejoin="round" stroke-linecap="round"/>
<path d="M2854.2,2061.2C2855.6,2058.4 2864.9,2050.1 2871.4,2044.6C2877.9,2039 2886.6,2032.5 2893.5,2027.8C2900.5,2023.1 2907.7,2019.2 2913,2016.3C2918.3,2013.4 2924.4,2009.6 2925.4,2010.4C2926.4,2011.1 2923.1,2016.1 2919.1,2020.8C2915.2,2025.4 2908.1,2032.8 2901.9,2038.2C2895.6,2043.6 2887.9,2049.2 2881.5,2053C2875.1,2056.8 2868,2059.9 2863.5,2061.2C2858.9,2062.6 2852.9,2064 2854.2,2061.2Z" fill="none" stroke="#395471" stroke-width="7.8" stroke-linejoin="round" stroke-linecap="round"/>
<path d="M2905.8,2067.7C2903.4,2067 2904.9,2063.4 2908.7,2057.6C2912.5,2051.9 2921.6,2042.1 2928.8,2033.2C2936,2024.4 2943.1,2014.1 2951.8,2004.5C2960.4,1995 2970.9,1984.9 2980.5,1975.8C2990,1966.7 2999.6,1958.1 3009.2,1950C3018.7,1941.9 3028.3,1935.2 3037.9,1927C3047.4,1918.9 3058.4,1909.3 3066.6,1901.2C3074.7,1893.1 3079.5,1885.2 3086.7,1878.2C3093.8,1871.3 3101,1865.8 3109.6,1859.6C3118.2,1853.4 3126.4,1848.3 3138.3,1840.9C3150.3,1833.5 3167,1824.2 3181.4,1815.1C3195.7,1806 3210.1,1796.4 3224.4,1786.4C3238.8,1776.3 3253.1,1764.9 3267.5,1754.8C3281.8,1744.8 3296.2,1735.2 3310.5,1726.1C3324.9,1717 3341.6,1707.5 3353.6,1700.3C3365.6,1693.1 3375.1,1687.4 3382.3,1683.1C3389.5,1678.7 3392.6,1676.5 3396.7,1674.4C3400.7,1672.4 3404.8,1670.8 3406.7,1671C3408.6,1671.2 3409.1,1673.4 3408.1,1675.9C3407.2,1678.4 3400.5,1683.1 3401,1685.9C3401.4,1688.8 3408,1691.4 3411,1693.1C3414,1694.8 3418.1,1694.3 3419,1696C3420,1697.6 3420.5,1698.6 3416.8,1703.1C3413,1707.7 3404.8,1715.6 3396.7,1723.2C3388.5,1730.9 3377.5,1740.5 3368,1749.1C3358.4,1757.7 3348.8,1766.3 3339.3,1774.9C3329.7,1783.5 3320.1,1791.6 3310.5,1800.7C3301,1809.8 3291.4,1820.8 3281.8,1829.4C3272.3,1838.1 3265.1,1843.3 3253.1,1852.4C3241.2,1861.5 3224.4,1873.9 3210.1,1884C3195.7,1894 3181.4,1902.6 3167,1912.7C3152.7,1922.7 3138.3,1933.7 3124,1944.3C3109.6,1954.8 3095.3,1965.8 3080.9,1975.8C3066.6,1985.9 3049.3,1997.1 3037.9,2004.5C3026.4,2011.9 3018.3,2017.4 3012,2020.3C3005.8,2023.2 3005.8,2019.8 3000.6,2021.8C2995.3,2023.7 2988.6,2027.5 2980.5,2031.8C2972.3,2036.1 2961.3,2042.6 2951.8,2047.6C2942.2,2052.6 2930.7,2058.6 2923.1,2061.9C2915.4,2065.3 2908.2,2068.4 2905.8,2067.7Z" fill="none" stroke="#a3caa6" stroke-width="7.8" stroke-linejoin="round" stroke-linecap="round"/>
<path d="M3006.3,1991.6C3003.9,1990.7 3005.3,1987.1 3009.2,1981.6C3013,1976.1 3022.1,1966.3 3029.3,1958.6C3036.4,1951 3043.6,1944.3 3052.2,1935.6C3060.8,1927 3071.4,1915.6 3080.9,1906.9C3090.5,1898.3 3100.1,1891.2 3109.6,1884C3119.2,1876.8 3126.4,1872 3138.3,1863.9C3150.3,1855.8 3167,1845.2 3181.4,1835.2C3195.7,1825.1 3210.1,1814.6 3224.4,1803.6C3238.8,1792.6 3254.1,1778.7 3267.5,1769.2C3280.9,1759.6 3294.8,1752.4 3304.8,1746.2C3314.9,1740 3322.5,1734.5 3327.8,1731.9C3333,1729.2 3333.9,1729.2 3336.4,1730.4C3338.9,1731.6 3343.2,1735.4 3342.7,1739C3342.2,1742.6 3338.9,1746 3333.5,1751.9C3328.2,1757.9 3319.2,1766.8 3310.5,1774.9C3301.9,1783 3291.4,1792.6 3281.8,1800.7C3272.3,1808.9 3265.1,1814.1 3253.1,1823.7C3241.2,1833.3 3224.4,1847.1 3210.1,1858.1C3195.7,1869.1 3181.4,1879.2 3167,1889.7C3152.7,1900.2 3138.3,1910.8 3124,1921.3C3109.6,1931.8 3092.9,1944.7 3080.9,1952.9C3069,1961 3061.8,1964.3 3052.2,1970.1C3042.7,1975.8 3031.2,1983.7 3023.5,1987.3C3015.9,1990.9 3008.7,1992.6 3006.3,1991.6Z" fill="none" stroke="#a3caa6" stroke-width="7.8" stroke-linejoin="round" stroke-linecap="round"/>
<path d="M3056.5,1954.3C3056,1952.6 3059.6,1946.4 3063.7,1941.4C3067.8,1936.4 3074.2,1930.9 3080.9,1924.2C3087.6,1917.5 3095.3,1908.9 3103.9,1901.2C3112.5,1893.5 3122.1,1886.4 3132.6,1878.2C3143.1,1870.1 3154.1,1862 3167,1852.4C3179.9,1842.8 3195.7,1831.4 3210.1,1820.8C3224.4,1810.3 3240.2,1798.8 3253.1,1789.3C3266.1,1779.7 3279,1769.2 3287.6,1763.4C3296.2,1757.7 3301.4,1755.1 3304.8,1754.8C3308.3,1754.6 3309.7,1757.7 3308.3,1762C3306.8,1766.3 3301.6,1774.2 3296.2,1780.6C3290.8,1787.1 3284.2,1793.6 3276.1,1800.7C3268,1807.9 3258.4,1815.1 3247.4,1823.7C3236.4,1832.3 3223.5,1842.4 3210.1,1852.4C3196.7,1862.5 3181.4,1873.5 3167,1884C3152.7,1894.5 3136.9,1906.5 3124,1915.6C3111.1,1924.6 3099.1,1932.5 3089.5,1938.5C3080,1944.5 3072.1,1948.8 3066.6,1951.4C3061.1,1954.1 3057,1956 3056.5,1954.3Z" fill="none" stroke="#a3caa6" stroke-width="7.8" stroke-linejoin="round" stroke-linecap="round"/>
<path d="M3101,1919.9C3101.5,1917.5 3104.4,1912.4 3109.6,1906.9C3114.9,1901.4 3124,1894 3132.6,1886.8C3141.2,1879.7 3150.8,1872 3161.3,1863.9C3171.8,1855.8 3184.3,1846.7 3195.7,1838.1C3207.2,1829.4 3219.7,1820.4 3230.2,1812.2C3240.7,1804.1 3251.2,1794.8 3258.9,1789.3C3266.5,1783.8 3274.1,1778.7 3276.1,1779.2C3278.1,1779.7 3275.7,1786.6 3270.9,1792.1C3266.2,1797.6 3256.1,1805 3247.4,1812.2C3238.7,1819.4 3229.2,1827 3218.7,1835.2C3208.2,1843.3 3195.7,1852.4 3184.3,1861C3172.8,1869.6 3160.3,1878.7 3149.8,1886.8C3139.3,1895 3128.3,1904.1 3121.1,1909.8C3113.9,1915.6 3110.1,1919.6 3106.8,1921.3C3103.4,1923 3100.5,1922.2 3101,1919.9Z" fill="none" stroke="#a3caa6" stroke-width="7.8" stroke-linejoin="round" stroke-linecap="round"/>
<polygon points="2595.2,2202.8 2600.3,2218.4 2616.7,2218.4 2603.4,2228.1 2608.5,2243.7 2595.2,2234 2581.9,2243.7 2587,2228.1 2573.7,2218.4 2590.1,2218.4" fill="#ff0000" stroke="#ff0000" stroke-width="2.8" stroke-linejoin="round"/>
</g>
<path d="M2610.7,2253.9 v-8 M2750.6,2253.9 v-8 M2890.5,2253.9 v-8 M3030.4,2253.9 v-8 M3170.3,2253.9 v-8 M3310.2,2253.9 v-8 M3450.1,2253.9 v-8 M2548.2,1623.9 h8 M2548.2,1722.5 h8 M2548.2,1821.1 h8 M2548.2,1919.7 h8 M2548.2,2018.3 h8 M2548.2,2116.9 h8 M2548.2,2215.5 h8" stroke="#000" stroke-width="2.1" fill="none"/>
<rect x="2548.2" y="1576.3" width="981.8" height="677.6499999999999" fill="none" stroke="#000" stroke-width="2.2"/>
<text x="2609.5" y="2293.6" font-size="38.9" text-anchor="middle" textLength="104.7" lengthAdjust="spacingAndGlyphs">0.9809</text>
<text x="2749.4" y="2293.6" font-size="38.9" text-anchor="middle" textLength="104.7" lengthAdjust="spacingAndGlyphs">0.9810</text>
<text x="2889.3" y="2293.6" font-size="38.9" text-anchor="middle" textLength="104.7" lengthAdjust="spacingAndGlyphs">0.9811</text>
<text x="3029.2" y="2293.6" font-size="38.9" text-anchor="middle" textLength="104.7" lengthAdjust="spacingAndGlyphs">0.9812</text>
<text x="3169.1" y="2293.6" font-size="38.9" text-anchor="middle" textLength="104.7" lengthAdjust="spacingAndGlyphs">0.9813</text>
<text x="3309" y="2293.6" font-size="38.9" text-anchor="middle" textLength="104.7" lengthAdjust="spacingAndGlyphs">0.9814</text>
<text x="3448.9" y="2293.6" font-size="38.9" text-anchor="middle" textLength="104.7" lengthAdjust="spacingAndGlyphs">0.9815</text>
<text x="2426.2" y="1636.8" font-size="38.9" textLength="104.3" lengthAdjust="spacingAndGlyphs">0.4310</text>
<text x="2426.2" y="1735.4" font-size="38.9" textLength="104.3" lengthAdjust="spacingAndGlyphs">0.4308</text>
<text x="2426.2" y="1834" font-size="38.9" textLength="104.3" lengthAdjust="spacingAndGlyphs">0.4306</text>
<text x="2426.2" y="1932.6" font-size="38.9" textLength="104.3" lengthAdjust="spacingAndGlyphs">0.4304</text>
<text x="2426.2" y="2031.2" font-size="38.9" textLength="104.3" lengthAdjust="spacingAndGlyphs">0.4302</text>
<text x="2426.2" y="2129.8" font-size="38.9" textLength="104.3" lengthAdjust="spacingAndGlyphs">0.4300</text>
<text x="2426.2" y="2228.4" font-size="38.9" textLength="104.3" lengthAdjust="spacingAndGlyphs">0.4298</text>
<text x="2964.3" y="1549.8" font-size="38.9" class="i">t</text>
<text x="2978.5" y="1553.7" font-size="27.2">0</text>
<text x="3007.5" y="1549.8" font-size="38.9" textLength="25.6" lengthAdjust="spacingAndGlyphs">=</text>
<text x="3047.4" y="1549.8" font-size="38.9" textLength="65.6" lengthAdjust="spacingAndGlyphs">50.0</text>
<text x="3014.3" y="2338.9" font-size="38.9" class="i" textLength="38" lengthAdjust="spacingAndGlyphs">M</text>
<text x="3053.6" y="2344.7" font-size="27.2" class="i">f</text>
<g transform="translate(53.0,1911.3) rotate(-90)">
<text x="-19.5" y="0" font-size="35.5" class="i">χ</text>
<text x="3.2" y="6.0" font-size="27.2" class="i">f</text>
</g>
</svg>
</body></html>
